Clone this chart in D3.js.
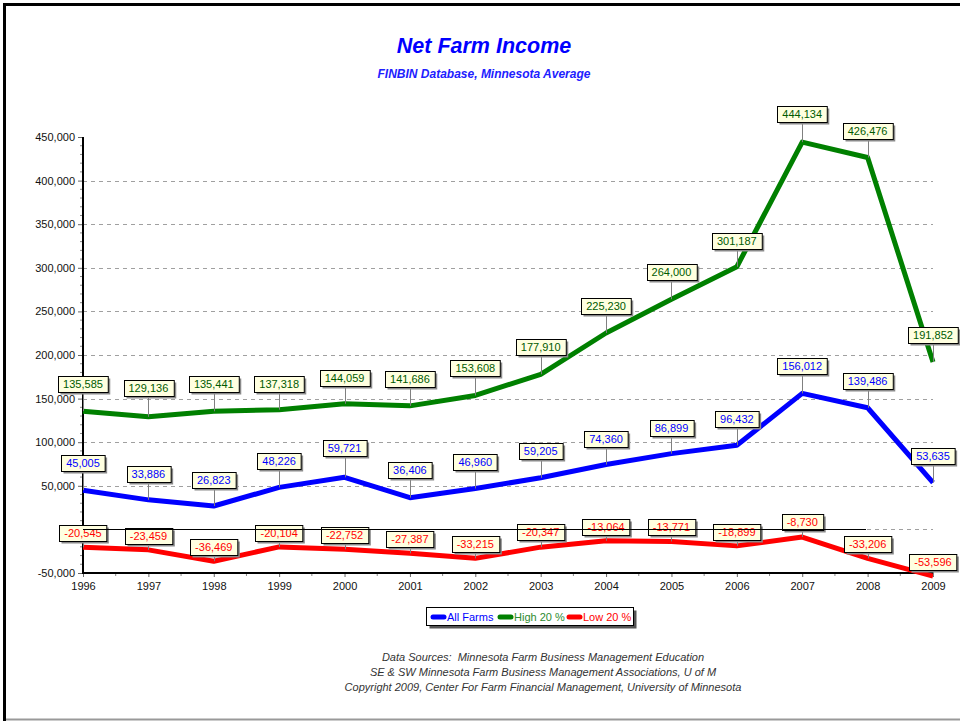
<!DOCTYPE html>
<html><head><meta charset="utf-8">
<script src="https://cdn.jsdelivr.net/npm/d3@7"></script>
<style>
html,body{margin:0;padding:0;background:#fff;}
svg{display:block;font-family:"Liberation Sans",Arial,sans-serif;}
.pre{white-space:pre;}
</style></head>
<body>
<svg id="c" width="960" height="721"></svg>
<script>
const years = [1996,1997,1998,1999,2000,2001,2002,2003,2004,2005,2006,2007,2008,2009];
const allFarms = [45005,33886,26823,48226,59721,36406,46960,59205,74360,86899,96432,156012,139486,53635];
const high20 = [135585,129136,135441,137318,144059,141686,153608,177910,225230,264000,301187,444134,426476,191852];
const low20 = [-20545,-23459,-36469,-20104,-22752,-27387,-33215,-20347,-13064,-13771,-18899,-8730,-33206,-53596];
const yTicks = [-50000,50000,100000,150000,200000,250000,300000,350000,400000,450000];
const gridValues = [0,50000,100000,150000,200000,250000,300000,350000,400000];
const seriesNames = ["All Farms","High 20 %","Low 20 %"];
const footer = ["Data Sources:  Minnesota Farm Business Management Education",
  "SE & SW Minnesota Farm Business Management Associations, U of M",
  "Copyright 2009, Center For Farm Financial Management, University of Minnesota"];

// layout (label offsets above points, px)
const highLabelOffset = [27,29,27,26,26,27,27,27,27,27,26,28,27,27];
const allLabelOffset = [27,26,26,26,29,28,26,27,26,26,26,27,27,27];
const lowLabelOffset = [14,14,14,14,14,14,14,15,14,14,14,15,14,14];

const svg = d3.select("#c");
const x = d3.scaleLinear().domain([1996,2009]).range([83,933]);
const y = d3.scaleLinear().domain([-50000,450000]).range([573,137]);
const fmt = d3.formatLocale({decimal:".",thousands:",",grouping:[3],currency:["$",""],minus:"-"}).format(",");

// frame
svg.append("rect").attr("x",3).attr("y",3).attr("width",957).attr("height",3).attr("fill","#000");
svg.append("rect").attr("x",3).attr("y",3).attr("width",3).attr("height",718).attr("fill","#000");
svg.append("line").attr("x1",6).attr("x2",960).attr("y1",719.5).attr("y2",719.5).attr("stroke","#999").attr("stroke-width",2);

// titles
svg.append("text").attr("x",484).attr("y",53).attr("text-anchor","middle")
  .attr("font-size","21.5px").attr("font-weight","bold").attr("font-style","italic").attr("fill","#0000ff")
  .text("Net Farm Income");
svg.append("text").attr("x",484).attr("y",78).attr("text-anchor","middle")
  .attr("font-size","12px").attr("font-weight","bold").attr("font-style","italic").attr("fill","#2020ff")
  .text("FINBIN Database, Minnesota Average");

// gridlines
const g = svg.append("g");
g.selectAll("line.grid").data(gridValues).enter().append("line")
  .attr("x1",x(1996)).attr("x2",x(2009)).attr("y1",d=>Math.round(y(d))+0.5).attr("y2",d=>Math.round(y(d))+0.5)
  .attr("stroke","#a0a0a0").attr("stroke-dasharray","4,4");

// y axis
const yAxis = d3.axisLeft(y).tickValues(yTicks).tickFormat(fmt).tickSize(5).tickPadding(3);
const ya = svg.append("g").attr("transform",`translate(${x(1996)},0)`).call(yAxis);
ya.select(".domain").remove();
ya.selectAll(".tick line").attr("stroke","#666");
ya.selectAll(".tick text").attr("font-size","11px").attr("fill","#111").attr("font-family","Liberation Sans, Arial, sans-serif");
// minor y ticks
const minorY = d3.range(-50000,450001,10000).filter(v=>v%50000!==0);
svg.append("g").selectAll("line").data(minorY.concat([0])).enter().append("line")
  .attr("x1",x(1996)-3).attr("x2",x(1996)).attr("y1",d=>y(d)).attr("y2",d=>y(d)).attr("stroke","#888");

// x axis
const xAxis = d3.axisBottom(x).tickValues(years).tickFormat(d3.format("d")).tickSize(4).tickPadding(5);
const xa = svg.append("g").attr("transform",`translate(0,${y(-50000)})`).call(xAxis);
xa.select(".domain").remove();
xa.selectAll(".tick line").attr("stroke","#666");
xa.selectAll(".tick text").attr("font-size","11px").attr("fill","#111").attr("font-family","Liberation Sans, Arial, sans-serif");
svg.append("g").selectAll("line").data(years.slice(0,-1)).enter().append("line")
  .attr("x1",d=>x(d+0.5)).attr("x2",d=>x(d+0.5)).attr("y1",y(-50000)).attr("y2",y(-50000)+3).attr("stroke","#888");

// axis lines
svg.append("line").attr("x1",x(1996)).attr("x2",x(1996)).attr("y1",y(450000)).attr("y2",y(-50000)+1).attr("stroke","#000").attr("stroke-width",2);
svg.append("line").attr("x1",x(1996)-1).attr("x2",x(2009)).attr("y1",y(-50000)).attr("y2",y(-50000)).attr("stroke","#000").attr("stroke-width",2);

// series
const series = [
  {name:seriesNames[0], values:allFarms, line:"#0000ff", text:"#0000ff", off:allLabelOffset},
  {name:seriesNames[1], values:high20, line:"#008000", text:"#005a00", off:highLabelOffset},
  {name:seriesNames[2], values:low20, line:"#ff0000", text:"#ff0000", off:lowLabelOffset}
];
const lineGen = d3.line().x((d,i)=>x(years[i])).y(d=>y(d));
series.forEach(s=>{
  svg.append("path").attr("d",lineGen(s.values)).attr("fill","none").attr("stroke",s.line)
    .attr("stroke-width",5).attr("stroke-linejoin","round");
});

// labels
series.forEach(s=>{
  s.values.forEach((v,i)=>{
    const px = x(years[i]), py = y(v);
    const cy = py - s.off[i];
    const lg = svg.append("g");
    lg.append("line").attr("x1",Math.round(px)+0.5).attr("x2",Math.round(px)+0.5).attr("y1",py).attr("y2",cy+8)
      .attr("stroke","#808080");
    const t = lg.append("text").attr("x",px).attr("y",cy+4).attr("text-anchor","middle")
      .attr("font-size","11px").attr("fill",s.text).text(fmt(v));
    const w = t.node().getComputedTextLength()+10;
    const bx = Math.round(px - w/2)+0.5, by = Math.round(cy-8)+0.5;
    lg.insert("rect","text").attr("x",bx+2).attr("y",by+2).attr("width",w).attr("height",16).attr("fill","#8a8a8a");
    lg.insert("rect","text").attr("x",bx).attr("y",by).attr("width",w).attr("height",16)
      .attr("fill","#ffffe0").attr("stroke","#000").attr("stroke-width",1);
  });
});

// zero line (drawn on top, as in original)
svg.append("line").attr("x1",x(1996)).attr("x2",866).attr("y1",Math.round(y(0))+0.5).attr("y2",Math.round(y(0))+0.5)
  .attr("stroke","#000").attr("stroke-width",1);

// legend
const leg = svg.append("g");
leg.append("rect").attr("x",429.5).attr("y",610.5).attr("width",207).attr("height",18).attr("fill","#555");
leg.append("rect").attr("x",426.5).attr("y",607.5).attr("width",207).attr("height",18).attr("fill","#fff").attr("stroke","#000");
const legX = [431,498,567];
series.forEach((s,i)=>{
  leg.append("line").attr("x1",legX[i]+2).attr("x2",legX[i]+13).attr("y1",617).attr("y2",617)
    .attr("stroke",s.line).attr("stroke-width",5).attr("stroke-linecap","round");
  leg.append("text").attr("x",legX[i]+16).attr("y",621).attr("font-size","11px").attr("fill",s.line==="#008000"?"#2e8b2e":s.line).text(s.name);
});

// footer
svg.append("g").selectAll("text").data(footer).enter().append("text").attr("class","pre")
  .attr("x",543).attr("y",(d,i)=>661+i*15).attr("text-anchor","middle")
  .attr("font-size","11px").attr("font-style","italic").attr("fill","#333").text(d=>d);
</script>
</body></html>
